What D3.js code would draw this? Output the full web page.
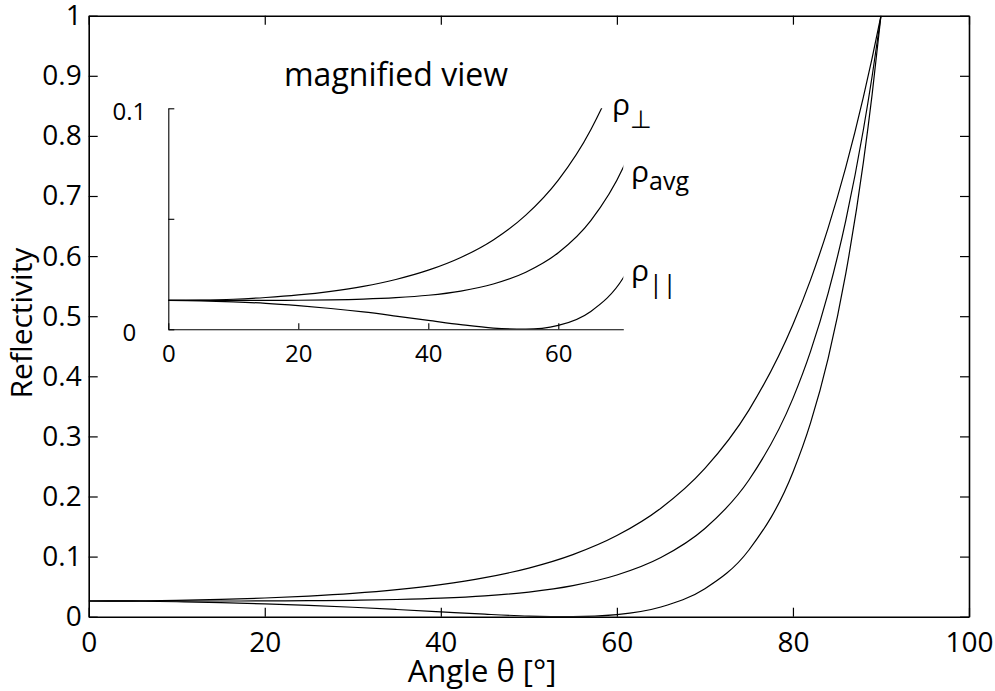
<!DOCTYPE html>
<html>
<head>
<meta charset="utf-8">
<script src="https://cdn.jsdelivr.net/npm/d3@7"></script>
<style>
    body { margin: 0; background: #fff; }
    svg text { font-family: "Open Sans", "DejaVu Sans", sans-serif; fill: #000; }
    .axis path, .axis line { stroke: #000; }
    .curve { fill: none; stroke: #000; stroke-width: 1.2; }
</style>
</head>
<body>
<svg id="chart" width="995" height="691"></svg>
<script>
'use strict';

// angle of incidence, degrees
var angles = [0, 5, 10, 15, 20, 25, 30, 35, 40, 45, 50, 55, 60, 65, 70, 75, 80, 82, 84, 86, 88, 89, 90];

// reflectivity
var rhoPerp = [0.0261, 0.0264, 0.0272, 0.0288, 0.0311, 0.0344, 0.0389, 0.0451, 0.0535, 0.0650, 0.0809, 0.1033,
               0.1350, 0.1806, 0.2468, 0.3438, 0.4863, 0.5605, 0.6470, 0.7476, 0.8645, 0.9298, 1];
var rhoAvg  = [0.0261, 0.0261, 0.0261, 0.0261, 0.0263, 0.0266, 0.0273, 0.0286, 0.0308, 0.0346, 0.0410, 0.0517,
               0.0693, 0.0984, 0.1467, 0.2274, 0.3633, 0.4414, 0.5384, 0.6592, 0.8102, 0.8997, 1];
var rhoPar  = [0.0261, 0.0258, 0.0249, 0.0235, 0.0214, 0.0188, 0.0157, 0.0120, 0.0081, 0.0042, 0.0011, 0.0001,
               0.0036, 0.0162, 0.0466, 0.1110, 0.2404, 0.3224, 0.4298, 0.5708, 0.7560, 0.8695, 1];

var xTicks = [0, 20, 40, 60, 80, 100];
var yTicks = [0, 0.1, 0.2, 0.3, 0.4, 0.5, 0.6, 0.7, 0.8, 0.9, 1];

var insetXTicks = [0, 20, 40, 60];
var insetYTicks = [0, 0.1, 0.2];
var insetYTickLabels = ['0', '', '0.1'];

var seriesNames = ['\u03c1', '\u03c1', '\u03c1'];
var seriesSubs = ['\u22a5', 'avg', '||'];

var svg = d3.select('#chart');

// ---------- main plot ----------
var main = { left: 88.7, right: 969, top: 15.7, bottom: 616.7 };

var x = d3.scaleLinear().domain([0, 100]).range([main.left, main.right]);
var y = d3.scaleLinear().domain([0, 1]).range([main.bottom, main.top]);

var series = [rhoPerp, rhoAvg, rhoPar].map(function (vals) {
    return angles.map(function (a, i) { return [a, vals[i]]; });
});

svg.append('clipPath').attr('id', 'clipMain')
   .append('rect')
   .attr('x', main.left).attr('y', main.top)
   .attr('width', main.right - main.left).attr('height', main.bottom - main.top);

var lineMain = d3.line()
                 .x(function (d) { return x(d[0]); })
                 .y(function (d) { return y(d[1]); })
                 .curve(d3.curveMonotoneX);

svg.append('g').attr('clip-path', 'url(#clipMain)')
   .selectAll('path').data(series).enter()
   .append('path').attr('class', 'curve').attr('d', lineMain);

svg.append('g').attr('class', 'axis')
   .attr('transform', 'translate(0,' + main.bottom + ')')
   .call(d3.axisBottom(x).tickValues(xTicks).tickSize(-9).tickSizeOuter(0).tickPadding(15)
           .tickFormat(d3.format('d')));

svg.append('g').attr('class', 'axis')
   .attr('transform', 'translate(' + main.left + ',0)')
   .call(d3.axisLeft(y).tickValues(yTicks).tickSize(-9).tickSizeOuter(0).tickPadding(7)
           .tickFormat(d3.format('~g')));

svg.append('g').attr('class', 'axis')
   .attr('transform', 'translate(0,' + main.top + ')')
   .call(d3.axisTop(x).tickValues(xTicks).tickSize(-9).tickSizeOuter(0).tickFormat(''));

svg.append('g').attr('class', 'axis')
   .attr('transform', 'translate(' + main.right + ',0)')
   .call(d3.axisRight(y).tickValues(yTicks).tickSize(-9).tickSizeOuter(0).tickFormat(''));

svg.selectAll('.axis text').attr('font-size', 28).attr('font-family', '"Open Sans", sans-serif');
svg.selectAll('.axis line').attr('stroke-width', 1.2);
svg.selectAll('.axis path').attr('stroke-width', 1.6);

svg.append('text')
   .attr('x', 482).attr('y', 682)
   .attr('text-anchor', 'middle').attr('font-size', 31)
   .text('Angle \u03b8 [\u00b0]');

svg.append('text')
   .attr('transform', 'translate(32,323) rotate(-90)')
   .attr('text-anchor', 'middle').attr('font-size', 30)
   .text('Reflectivity');

// ---------- inset ----------
var inset = { left: 168.3, right: 623.3, top: 108.3, bottom: 329.3 };

var ix = d3.scaleLinear().domain([0, 70]).range([inset.left, inset.right]);
var iy = d3.scaleLinear().domain([0, 0.2]).range([inset.bottom, inset.top]);

svg.append('clipPath').attr('id', 'clipInset')
   .append('rect')
   .attr('x', inset.left).attr('y', inset.top)
   .attr('width', inset.right - inset.left).attr('height', inset.bottom - inset.top);

var lineInset = d3.line()
                  .x(function (d) { return ix(d[0]); })
                  .y(function (d) { return iy(d[1]); })
                  .curve(d3.curveMonotoneX);

svg.append('g').attr('clip-path', 'url(#clipInset)')
   .selectAll('path').data(series).enter()
   .append('path').attr('class', 'curve').attr('d', lineInset);

svg.append('g').attr('class', 'iaxis')
   .attr('transform', 'translate(0,' + inset.bottom + ')')
   .call(d3.axisBottom(ix).tickValues(insetXTicks).tickSize(-6).tickSizeOuter(0).tickPadding(16)
           .tickFormat(d3.format('d')));

var igy = svg.append('g').attr('class', 'iaxis')
             .attr('transform', 'translate(' + inset.left + ',0)')
             .call(d3.axisLeft(iy).tickValues(insetYTicks).tickSize(-6).tickSizeOuter(0).tickPadding(39)
                     .tickFormat(function (d, i) { return insetYTickLabels[i]; }));

igy.selectAll('text').attr('text-anchor', 'middle').attr('dy', '0.45em');
svg.selectAll('.iaxis text').attr('font-size', 24).attr('font-family', '"Open Sans", sans-serif');
svg.selectAll('.iaxis path, .iaxis line').attr('stroke', '#000').attr('stroke-width', 1.1);

svg.append('text')
   .attr('x', 396).attr('y', 86)
   .attr('text-anchor', 'middle').attr('font-size', 32)
   .text('magnified view');

// series labels at the right end of the inset curves
var labelPos = [[612, 114.5, 13], [631, 182, 8], [631, 281, 12]];

seriesSubs.forEach(function (sub, i) {
    var t = svg.append('text')
               .attr('x', labelPos[i][0]).attr('y', labelPos[i][1])
               .attr('font-size', 30);
    t.append('tspan').text(seriesNames[i]);
    t.append('tspan').attr('dy', labelPos[i][2]).attr('font-size', 25).text(sub);
});
</script>
</body>
</html>
